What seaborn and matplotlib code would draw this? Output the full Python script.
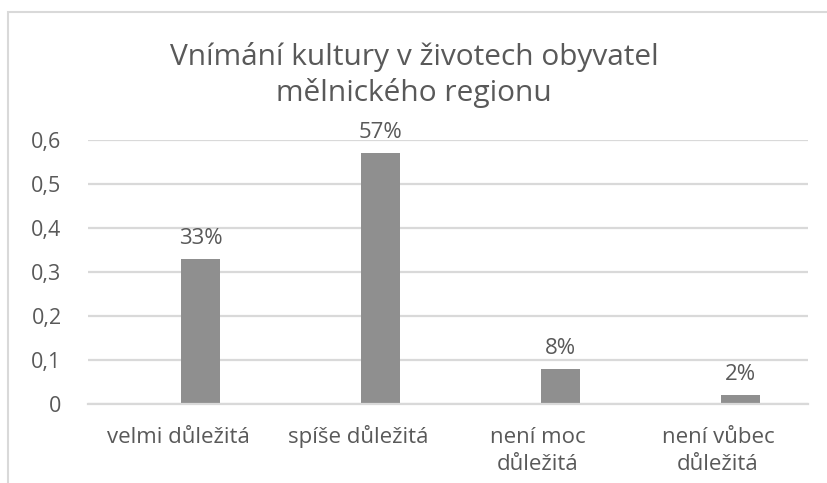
import pandas as pd
import seaborn as sns
import matplotlib.pyplot as plt
from matplotlib.patches import Rectangle

# data
categories = ["velmi důležitá", "spíše důležitá", "není moc\ndůležitá", "není vůbec\ndůležitá"]
values = [0.33, 0.57, 0.08, 0.02]
labels = ["33%", "57%", "8%", "2%"]
yticks = [0, 0.1, 0.2, 0.3, 0.4, 0.5, 0.6]
ytick_labels = ["0", "0,1", "0,2", "0,3", "0,4", "0,5", "0,6"]

# excel-style clustered chart: an empty first series pushes the bars right
df = pd.DataFrame({
    "cat": categories * 2,
    "val": [0.0] * 4 + values,
    "series": ["empty"] * 4 + ["data"] * 4,
})

sns.set_style("white")
plt.rcParams["font.family"] = ["Open Sans", "DejaVu Sans"]
txt = "#595959"

fig = plt.figure(figsize=(8.28, 4.83), dpi=100)
ax = fig.add_axes([88 / 828, 79 / 483, 720 / 828, 264 / 483])

sns.barplot(data=df, x="cat", y="val", hue="series", order=categories,
            hue_order=["empty", "data"], palette=["white", "#8f8f8f"],
            width=0.5, linewidth=0, legend=False, ax=ax)
# bars are ~40px wide in the reference
for p in ax.containers[1]:
    cx = p.get_x() + p.get_width() / 2
    p.set_width(0.222)
    p.set_x(cx - 0.111)

ax.set_ylim(0, 0.6)
ax.set_xlim(-0.5, 3.5)
ax.set_yticks(yticks)
ax.set_yticklabels(ytick_labels)
ax.yaxis.grid(True, color="#d9d9d9", linewidth=1.6)
ax.set_axisbelow(True)
for s in ["top", "right", "left"]:
    ax.spines[s].set_visible(False)
ax.spines["bottom"].set_color("#d9d9d9")
ax.spines["bottom"].set_linewidth(1.6)
ax.tick_params(axis="y", length=0, pad=19, labelsize=15.5, labelcolor=txt)
ax.tick_params(axis="x", length=0)
ax.set_xticklabels([""] * len(categories))
ax.set_xlabel("")
ax.set_ylabel("")

# category labels: each line on its own baseline so the first lines line up
for i, cat in enumerate(categories):
    for j, line in enumerate(cat.split("\n")):
        ax.annotate(line, (i, 0), xycoords=("data", "axes fraction"),
                    xytext=(0, -28 - 19.5 * j), textcoords="offset points",
                    ha="center", va="baseline", fontsize=16, color=txt)

ax.bar_label(ax.containers[1], labels=labels, padding=7, fontsize=16, color=txt)

fig.text(0.5, 1 - 75 / 483, "Vnímání kultury v životech obyvatel\nmělnického regionu",
         ha="center", va="center", fontsize=21.5, color=txt, linespacing=1.3)

# chart frame (cropped on the right and bottom)
fig.patches.append(Rectangle((8 / 828, -0.1), 1.0, 1.1 - 12 / 483,
                             transform=fig.transFigure, fill=False,
                             edgecolor="#d9d9d9", linewidth=1.5))

fig.savefig("out.png", dpi=100)
